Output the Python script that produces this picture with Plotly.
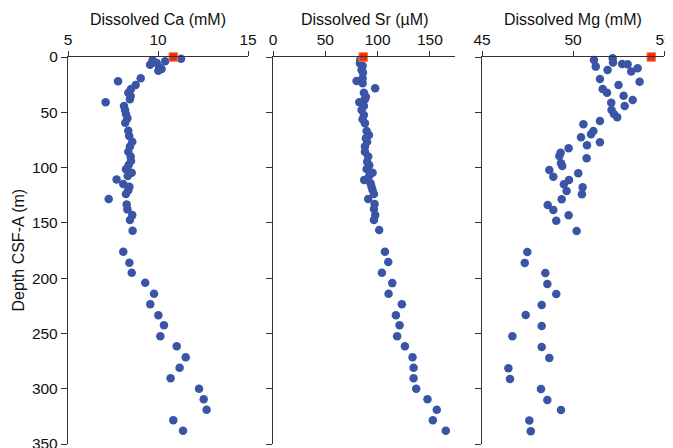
import plotly.graph_objects as go

# ---- data ----
ca_depth = [1.5, 3, 3.9, 5.4, 7, 9.3, 10.9, 12.4, 19.3, 22, 25.3, 29, 32.3, 35.3, 38.3, 41, 44.3, 48,
            51.6, 55.5, 59.4, 66.7, 71.5, 76.6, 81, 85.7, 90, 94, 97.7, 101.6, 104.7, 107.7, 110.7,
            114.9, 117.4, 120.4, 124, 128.5, 133.3, 137.8, 143, 147.5, 157.2, 176.2, 186.1, 195.2,
            204.2, 214.2, 223.5, 233.5, 242.5, 252.5, 261.5, 271.5, 281, 290.5, 300, 309.5, 319,
            328.5, 338]
ca_value = [11.28, 9.7, 10.4, 9.93, 9.56, 10.07, 10.2, 10.02, 9.04, 7.78, 8.76, 8.5, 8.35, 8.48, 8.44,
            7.09, 8.11, 8.17, 8.22, 8.3, 8.18, 8.35, 8.4, 8.57, 8.44, 8.35, 8.48, 8.5, 8.37, 8.22,
            8.54, 8.32, 7.7, 8.07, 8.41, 8.35, 8.22, 7.26, 8.26, 8.3, 8.57, 8.44, 8.59, 8.07, 8.41,
            8.54, 9.29, 9.78, 9.57, 10.02, 10.33, 10.13, 11.04, 11.54, 11.2, 10.7, 12.28, 12.54,
            12.7, 10.85, 11.39]

sr_depth = [2.5, 5.7, 8, 11.7, 14, 19.3, 21.7, 23.8, 28.3, 32.3, 35.9, 38.3, 41, 44.3, 48, 52.4, 56.4,
            60, 67, 70.5, 73.5, 76.6, 81, 85.7, 90, 94.7, 98, 101.3, 104.6, 107.3, 111.2, 114.2,
            117.3, 120.3, 124, 128.4, 133, 137.5, 143, 147.4, 156.5, 176.2, 185.5, 195.2, 204.5,
            214.2, 223.5, 233.5, 242.5, 252.5, 261.5, 271.5, 281, 290.5, 300, 309.5, 319, 328.5, 338]
sr_value = [83.5, 83.1, 85.7, 84.7, 86, 85.7, 79.9, 85.7, 97.7, 86.9, 88.8, 87.9, 82.5, 86.9, 84.7,
            86.9, 85.7, 87.9, 89.5, 91.7, 88.8, 90, 87.9, 87.9, 91, 90, 92, 89.5, 95.2, 92, 87.2,
            93.3, 94.2, 95.2, 96.5, 91, 97.1, 96.5, 97.7, 96.5, 101.5, 107, 110.2, 104.1, 114,
            110.5, 123.2, 117.5, 121, 118.7, 126.1, 133.4, 134.4, 134.4, 136.9, 147.7, 156.6,
            152.8, 165.2]

mg_depth = [1.2, 2.7, 5, 6.3, 6.6, 8.7, 10.2, 11.8, 13.2, 19.9, 22.3, 25.3, 28.9, 32.3, 35, 38.9,
            41.3, 44.3, 47.9, 51.5, 54.5, 57.9, 60.9, 66.9, 69.9, 72.6, 77.1, 79.8, 82.6, 86.5,
            89.5, 91.6, 96.1, 98.6, 102.2, 105.2, 108.2, 111.2, 115.1, 117.8, 121.2, 124.2, 128.7,
            133.8, 138.3, 143.2, 148, 157.3, 176.3, 186.2, 195.3, 205.2, 214.3, 224.2, 233.3,
            243.3, 252.6, 262.2, 272.2, 281.5, 291.2, 300.2, 310.2, 319.2, 328.8, 338.4]
mg_value = [52.18, 51.15, 52.2, 52.7, 53.0, 51.25, 53.55, 51.9, 53.2, 51.48, 53.66, 52.5, 51.63,
            51.87, 52.78, 53.28, 52.1, 52.84, 52.12, 52.25, 52.43, 51.48, 50.57, 51.12, 50.99,
            50.44, 51.48, 50.77, 49.76, 49.32, 49.25, 50.75, 49.34, 49.41, 48.7, 50.29, 48.92,
            49.78, 49.5, 50.53, 49.65, 50.49, 49.38, 48.61, 48.92, 49.76, 49.08, 50.2, 47.49,
            47.35, 48.48, 48.59, 49.08, 48.28, 47.4, 48.28, 46.67, 48.28, 48.7, 46.45, 46.54,
            48.24, 48.59, 49.34, 47.6, 47.68]

# seawater reference values (red squares) at depth 0
sw_depth = [0]
sw_ca = [10.85]
sw_sr = [86.3]
sw_mg = [54.3]

titles = ["Dissolved Ca (mM)", "Dissolved Sr (µM)", "Dissolved Mg (mM)"]
y_title = "Depth CSF-A (m)"

BLUE = "#3a55a6"
RED = "#ee2a1c"
FONT = "Liberation Sans, Arial, sans-serif"

fig = go.Figure()
panels = [(ca_value, ca_depth, sw_ca, "x", "y"),
          (sr_value, sr_depth, sw_sr, "x2", "y2"),
          (mg_value, mg_depth, sw_mg, "x3", "y3")]
for vals, deps, sw, xa, ya in panels:
    fig.add_trace(go.Scatter(x=vals, y=deps, mode="markers", xaxis=xa, yaxis=ya,
                             marker=dict(color=BLUE, size=8.5, line=dict(width=0)),
                             cliponaxis=False, showlegend=False))
    fig.add_trace(go.Scatter(x=sw, y=sw_depth, mode="markers", xaxis=xa, yaxis=ya,
                             marker=dict(color=RED, size=8.5, symbol="square",
                                         line=dict(color="#f5821f", width=1)),
                             cliponaxis=False, showlegend=False))

# page body has an 8px default margin; offset everything by it
OFF = 8
W, H = 673 - OFF, 448 - OFF
L, R, T, B = 68 - OFF, 9, 57 - OFF, 4
pw = W - L - R
px = lambda a: (a - OFF - L) / pw
dom = lambda a, b: [px(a), px(b)]

axis_common = dict(side="top", showline=True, linecolor="#333", linewidth=1.3,
                   ticks="outside", ticklen=5, tickwidth=1.3, tickcolor="#333",
                   showgrid=False, zeroline=False, automargin=False,
                   ticklabeloverflow="allow",
                   tickfont=dict(family=FONT, size=15.5, color="#111"))
yaxis_common = dict(range=[350, 0], showline=True, linecolor="#333", linewidth=1.3,
                    ticks="outside", ticklen=6, tickwidth=1.3, tickcolor="#333",
                    showgrid=False, zeroline=False, dtick=50, tick0=0, automargin=False,
                    ticklabeloverflow="allow",
                    tickfont=dict(family=FONT, size=15.5, color="#111"))

fig.update_layout(
    width=W, height=H,
    margin=dict(l=L, r=R, t=T, b=B, autoexpand=False),
    paper_bgcolor="white", plot_bgcolor="white",
    xaxis=dict(domain=dom(68, 248), range=[5, 15], dtick=5, anchor="y", **axis_common),
    xaxis2=dict(domain=dom(273, 455), range=[0, 174], dtick=50, anchor="y2", **axis_common),
    xaxis3=dict(domain=dom(482, 664), range=[45, 55], dtick=5, anchor="y3", **axis_common),
    yaxis=dict(anchor="x", **yaxis_common),
    yaxis2=dict(anchor="x2", showticklabels=False, **yaxis_common),
    yaxis3=dict(anchor="x3", showticklabels=False, **yaxis_common),
)

ph = H - T - B
centers = [158, 364, 573]
for c, t in zip(centers, titles):
    fig.add_annotation(text=t, x=px(c), y=1 + (57 - 20) / ph, xref="paper", yref="paper",
                       showarrow=False, xanchor="center", yanchor="middle",
                       font=dict(family=FONT, size=16, color="#111"))
fig.add_annotation(text=y_title, x=px(18), y=0.5, xref="paper", yref="paper",
                   showarrow=False, textangle=-90, xanchor="center", yanchor="middle",
                   font=dict(family=FONT, size=16, color="#111"))

fig.write_html("out.html")
